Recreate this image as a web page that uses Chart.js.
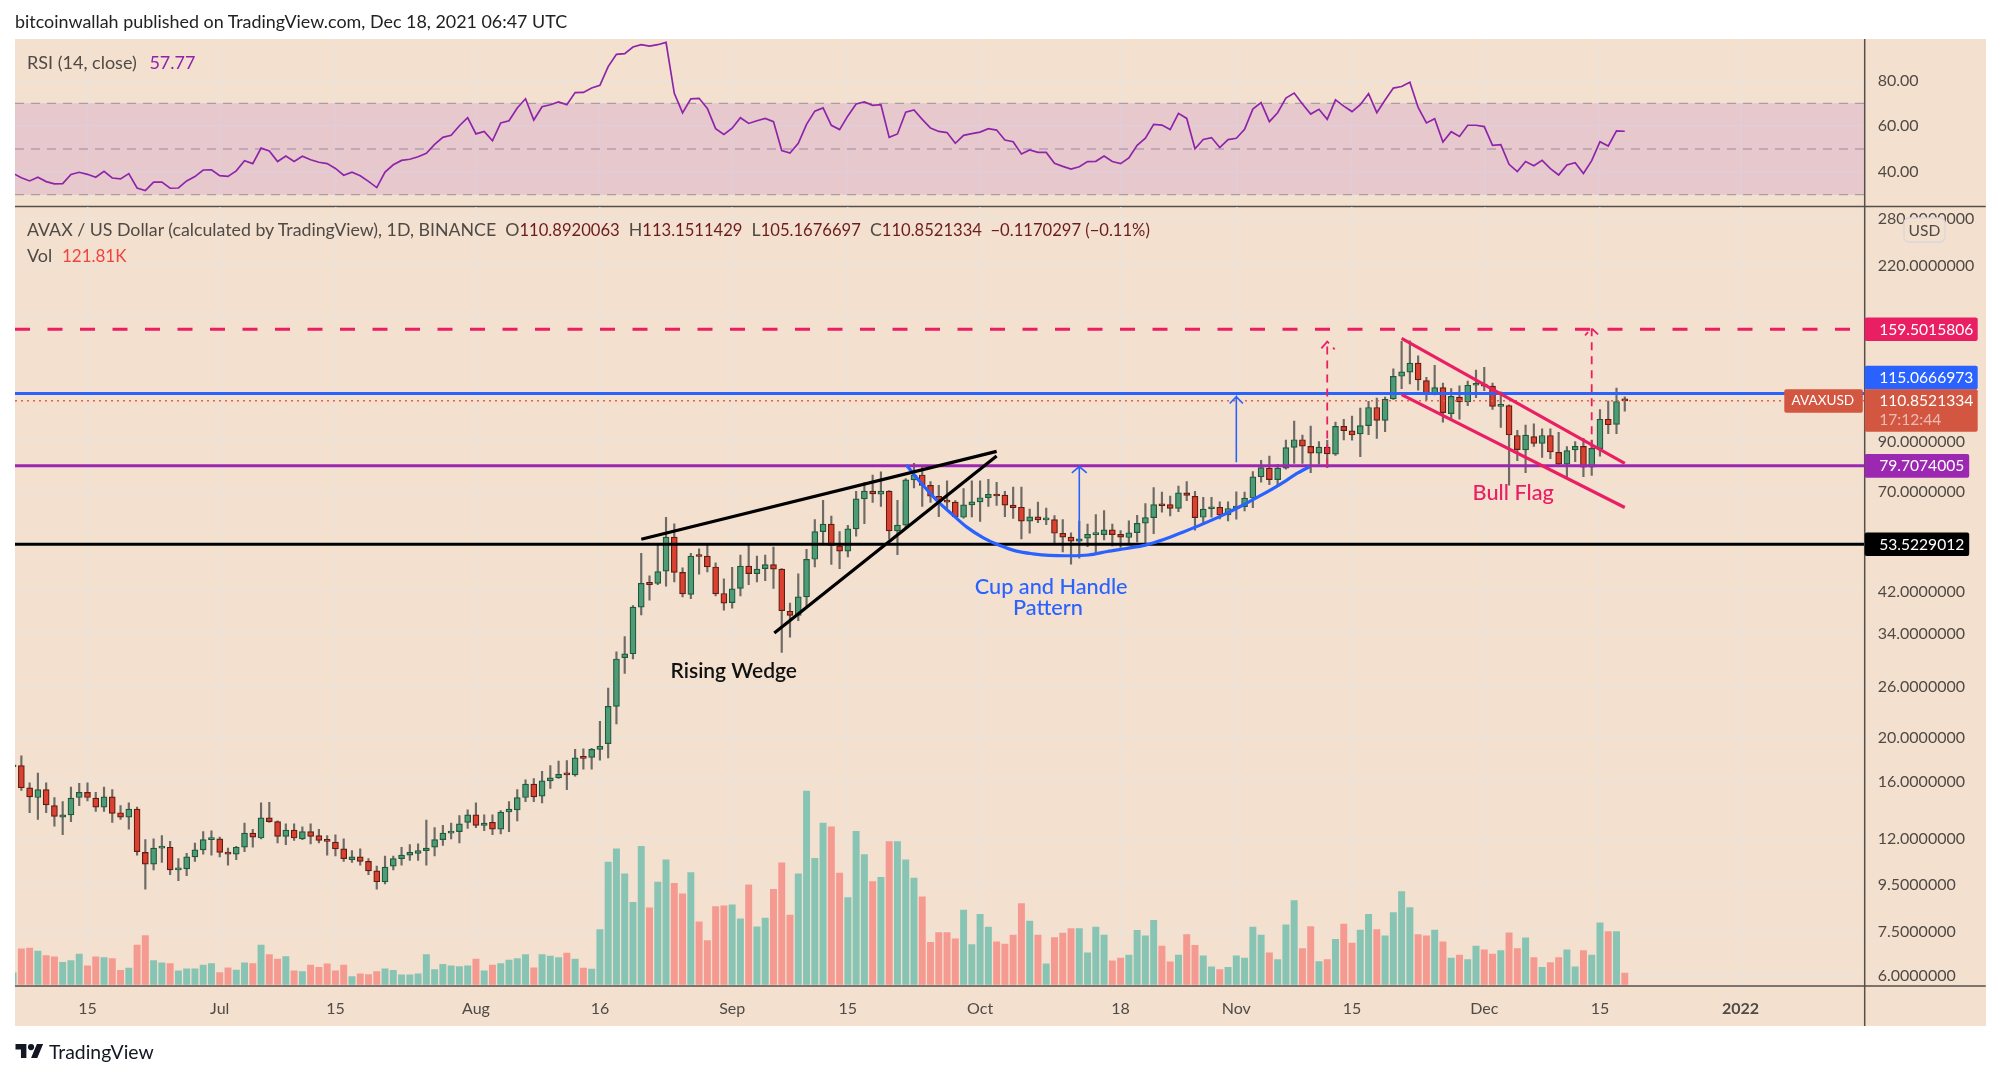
<!DOCTYPE html>
<html><head><meta charset="utf-8">
<script src="https://cdn.jsdelivr.net/npm/chart.js@4"></script>
<style>
html,body{margin:0;padding:0;background:#fff;width:2000px;height:1078px;overflow:hidden}
#bg{position:absolute;left:15px;top:39px;width:1970.7px;height:987px;background:#f3e0cf}
canvas{position:absolute;left:0;top:0}
.t{position:absolute;white-space:pre;line-height:1;transform:translateY(-50%);font-family:Lato,sans-serif;font-size:18px;color:#4f4a46}
.v{font-size:16.6px;color:#6b1c1c}
</style></head><body>
<div id="bg"></div>
<canvas id="rsi" width="2000" height="1078"></canvas>
<canvas id="main" width="2000" height="1078"></canvas>
<div class="t" style="left:15px;top:22px;color:#222;font-size:17.9px">bitcoinwallah published on TradingView.com, Dec 18, 2021 06:47 UTC</div>
<div class="t" style="left:27px;top:62px">RSI (14, close) <span style="color:#8e24aa;margin-left:8px">57.77</span></div>
<div class="t" style="left:27px;top:230px;font-size:17.75px">AVAX / US Dollar (calculated by TradingView), 1D, BINANCE  O<span class="v">110.8920063</span>  H<span class="v">113.1511429</span>  L<span class="v">105.1676697</span>  C<span class="v">110.8521334  −0.1170297 (−0.11%)</span></div>
<div class="t" style="left:27px;top:255px">Vol <span style="color:#f0453f;margin-left:5px;font-size:17px">121.81K</span></div>
<svg style="position:absolute;left:15px;top:1044px" width="29" height="14" viewBox="0 0 36 18"><path fill="#131722" d="M14 18H7V7H0V0h14v18zM28 18h-8L27.500 0h8L28 18z"/><circle cx="20" cy="4" r="4" fill="#131722"/></svg>
<div class="t" style="left:49px;top:1052px;color:#131722;font-size:19.4px">TradingView</div>
<script>
const dayTicks=[-16,0,14,31,46,62,76,92,109,123,137,153,167,184];
const dayTickLabels=['15','Jul','15','Aug','16','Sep','15','Oct','18','Nov','15','Dec','15','2022'];
const priceTicks=[6,7.5,9.5,12,16,20,26,34,42,54,70,90,115,170,220,280];
const priceTickHidden=[54,115,170];
const rsiTicks=[40,60,80];

const opens=[17.3,
17.4,15.55,14.8,15.4,14.2,13.4,13.55,14.8,15.2,14.75,
14.1,14.85,13.7,13.4,13.95,11.2,10.55,11.45,11.5,10.25,
10.3,10.95,11.35,11.95,12.0,11.2,11.1,11.5,12.35,12.05,
13.35,13.1,12.15,12.55,12.0,12.45,12.2,11.9,11.8,11.4,
10.8,10.95,10.7,10.2,9.65,10.45,10.85,11.05,11.15,11.3,
11.5,11.95,12.35,12.45,13.05,13.55,12.85,13.05,12.6,13.75,
13.9,14.8,15.85,14.9,16.1,16.35,16.7,16.6,18.15,18.15,
18.9,19.45,23.5,30.1,30.7,38.9,44.1,43.9,46.7,55.5,
46.4,41.5,50.6,50.4,47.7,41.7,39.8,42.8,47.9,46.1,
47.3,48.3,47.2,38.1,37.3,41.0,49.6,57.1,59.3,53.1,
51.7,57.9,67.4,70.1,69.0,70.1,57.3,59.0,74.2,76.1,
72.2,68.3,66.8,66.3,61.4,65.4,66.4,67.8,69.1,68.7,
65.3,64.6,60.2,61.5,60.6,60.7,56.6,55.5,54.4,55.2,
56.2,56.2,57.6,56.3,55.4,56.8,59.6,61.3,65.6,65.5,
64.2,69.5,68.3,61.4,64.1,64.6,62.1,64.3,64.8,67.7,
75.4,78.8,74.3,78.8,87.5,91.0,88.0,85.0,87.7,84.6,
97.4,95.2,93.7,97.8,107.2,100.4,112,125.6,128.2,134.3,
122.9,115,118.6,103.9,113,110.3,120,120.2,119.5,107.8,
108.2,93,86.4,92.5,89.3,93,85.4,80.4,86.4,88,
79.2,87,101,98.4,110.892];
const highs=[18,
18.3,15.95,16.75,15.95,14.8,14.5,15.6,15.9,15.95,15.2,
15.6,15.4,14.2,14.4,14.1,11.95,12.0,12.2,11.85,10.85,
11.15,11.75,12.45,12.5,12.1,11.45,11.55,13.0,12.6,14.4,
14.45,13.15,12.95,12.95,12.75,12.95,12.6,12.2,12.25,12.0,
11.3,11.4,10.85,10.45,11.0,11.0,11.5,11.65,11.7,13.2,
12.7,12.85,13.0,13.5,13.9,14.4,13.55,13.55,13.85,14.5,
15.4,16.2,16.3,16.9,17.4,17.8,17.85,18.9,18.95,19.0,
21.8,25.8,31.0,33.5,39.2,51.1,45.6,53.8,61.4,59.4,
47.5,51.1,52.3,53.3,48.7,44.9,47.6,50.7,53.6,50.4,
50.7,52.8,47.3,39.7,46.1,52.2,60.7,66.9,61.8,57.1,
58.9,70.0,73.2,76.1,77.3,70.3,66.9,74.7,80.7,79.9,
73.6,72.2,73.9,66.8,71.0,73.9,73.9,74.4,73.3,70.0,
71.6,71.6,64.0,66.3,64.3,61.9,60.7,56.7,60.2,59.3,
62.2,63.5,59.3,57.4,60.3,62.0,65.8,71.4,69.8,68.4,
71.9,73.6,70.0,67.9,67.9,66.4,66.4,69.9,69.8,77.4,
82.0,83.8,80.3,90.8,100.0,93.2,97.5,90.1,90.7,99.6,
101,102.6,106.9,110.6,112.4,113,130.5,150,150.4,139.4,
125,132.7,121.3,118,119.7,122.6,129.6,131.4,121.3,116.1,
108.6,95.5,98,98.6,96.2,96.2,94.5,87.9,90.1,91.6,
90.8,106.1,110.7,118.3,113.151];
const lows=[17,
15.35,13.7,13.25,13.7,12.8,12.25,13.1,14.2,14.55,13.8,
13.8,13.05,13.25,12.6,11.05,9.3,10.25,10.65,10.0,9.7,
9.95,10.7,11.1,11.05,10.95,10.5,10.8,11.25,11.5,12.0,
13.05,11.75,11.65,11.9,11.95,11.7,11.75,11.05,11.0,10.7,
10.65,10.5,10.0,9.3,9.55,10.25,10.5,10.75,10.75,10.5,
11.0,11.6,12.0,11.75,12.65,12.7,12.5,12.25,12.3,12.45,
13.15,14.5,14.5,14.4,15.5,16.3,15.4,16.5,17.1,17.1,
17.9,18.1,21.5,27.8,29.9,37.4,40.3,43.6,43.3,44.2,
41.0,40.6,46.0,46.5,41.2,38.3,38.7,41.2,43.6,44.2,
44.5,42.8,30.9,33.4,36.3,39.0,47.7,53.4,48.3,47.3,
50.2,55.8,59.4,66.2,64.9,54.9,50.8,58.1,71.3,64.9,
66.2,61.6,64.2,61.4,61.1,61.5,60.1,64.9,65.2,61.6,
61.0,55.0,56.6,59.7,59.1,53.9,51.5,48.4,49.9,52.9,
51.2,54.7,53.1,52.7,53.5,54.2,53.7,56.5,63.0,61.8,
63.2,66.8,57.5,59.2,61.4,60.9,60.3,60.8,63.4,64.5,
73.4,72.4,72.2,78.4,80.7,80.7,77.0,80.4,79.0,84.0,
90.9,90.8,83.5,93.4,91.6,94.8,111.7,118,120.8,117.1,
111.2,114.2,99.5,101,101,108.2,112.6,116.8,106.2,96.9,
72.3,81.8,77,88,83.2,82.7,80.2,75.4,81.4,75.4,
75.9,83.7,93.8,93.8,105.168];
const closes=[17.4,
15.55,14.85,15.4,14.25,13.45,13.55,14.75,15.2,14.8,14.1,
14.85,13.65,13.4,13.95,11.25,10.55,11.45,11.5,10.25,10.3,
10.95,11.35,11.95,12.0,11.2,11.1,11.5,12.35,12.1,13.35,
13.1,12.15,12.55,12.05,12.45,12.15,11.9,11.85,11.4,10.85,
10.95,10.7,10.2,9.65,10.4,10.85,11.05,11.2,11.3,11.45,
11.95,12.35,12.45,12.95,13.55,12.85,13.0,12.6,13.75,13.95,
14.8,15.85,14.85,16.1,16.35,16.65,16.6,18.1,18.05,18.9,
19.2,23.5,29.9,30.7,38.9,43.9,43.6,46.6,55.5,46.4,
41.6,50.4,50.3,47.7,41.6,39.7,42.7,47.9,46.1,47.2,
48.3,47.2,38.2,37.3,41.0,49.6,57.1,59.3,53.2,51.7,
57.9,67.4,70.1,69.1,70.1,57.3,59.0,74.2,76.1,72.2,
68.3,66.9,66.3,61.5,65.4,66.4,67.8,69.0,68.4,65.3,
64.5,60.2,61.5,60.6,61.0,56.6,55.5,54.4,55.0,56.3,
56.4,57.6,56.2,55.5,56.7,59.5,61.3,65.5,65.1,64.2,
69.5,68.6,61.3,64.0,64.7,62.1,64.2,64.7,67.7,75.4,
79.0,74.3,78.8,87.4,91.0,88.1,85.0,87.7,84.7,97.4,
95.3,93.2,97.8,107.2,100.4,111.7,125.6,128.4,134.3,123.3,
115,118.6,104.4,113.4,110.3,120,120.3,119.5,107.8,108.2,
93.2,86.5,93.2,89.3,93,85.5,80.4,86.1,88,79.2,
87.1,101,98.2,110.5,110.852];
const volumes=[125,
381,388,356,310,295,238,256,324,199,295,
288,278,150,174,420,523,256,231,224,146,
167,167,206,224,128,178,153,231,224,420,
320,271,299,146,139,206,182,221,146,206,
85,114,107,139,167,150,103,103,114,320,
160,214,199,192,199,271,146,206,224,260,
278,320,178,320,303,288,335,271,175,165,
587,1307,1449,1182,876,1474,819,1093,1331,1079,
968,1196,669,470,833,840,851,701,1064,616,
708,1015,1299,740,1182,2065,1346,1723,1684,1189,
929,1634,1388,1100,1143,1527,1527,1331,1136,936,
449,555,555,488,794,427,748,612,456,431,
527,865,676,527,221,502,548,598,598,338,
612,527,253,281,313,577,520,684,409,242,
313,534,417,306,189,160,182,306,281,612,
527,338,267,637,897,384,619,246,267,481,
644,441,580,748,587,520,769,993,822,534,
520,580,456,281,313,267,409,370,324,363,
552,384,498,288,182,235,288,370,189,363,
313,659,566,566,121.81];
const rsiValues=[39.3,37.4,36.0,37.6,35.7,34.7,34.8,38.8,39.8,38.9,37.6,40.2,37.3,36.9,39.2,32.9,31.8,35.5,35.5,32.8,32.9,36.0,37.9,40.8,40.9,
38.3,38.0,40.4,44.9,43.6,50.4,49.1,44.5,46.9,44.5,46.8,45.3,44.2,43.6,41.5,38.5,39.8,38.3,35.8,33.1,39.9,43.1,45.0,45.5,46.6,
48.1,52.0,55.1,56.0,60.2,63.7,56.6,57.7,53.6,61.4,62.4,68.0,72.0,62.7,68.5,69.4,70.6,69.4,74.7,74.8,76.7,77.9,86.1,91.5,91.8,
94.7,95.7,95.1,95.7,96.7,74.4,65.8,72.0,72.2,67.8,58.9,56.4,59.1,63.7,61.2,62.4,63.4,62.0,49.3,48.2,52.5,60.8,66.6,68.0,60.4,
58.5,64.5,69.7,70.6,69.1,69.4,55.1,56.6,66.1,67.1,63.0,59.2,57.7,57.2,52.5,56.0,56.7,57.4,58.9,58.3,53.9,53.2,47.8,49.6,48.5,
48.5,43.7,42.4,41.2,42.2,44.5,44.6,46.9,44.5,43.6,46.1,51.6,54.7,60.8,60.5,58.5,65.6,63.4,50.1,54.2,55.0,50.6,54.1,54.7,58.6,
67.5,70.3,62.0,65.9,72.3,74.5,69.7,65.3,67.4,63.0,71.5,68.8,66.4,69.4,74.2,65.9,71.5,76.7,77.4,79.3,68.2,61.4,63.3,53.1,57.6,
55.5,60.4,60.4,59.8,51.6,51.9,43.3,40.1,44.5,42.7,45.0,41.4,38.6,43.0,44.0,39.3,44.9,53.2,51.3,57.9,57.77];

const levelPrices=[159.5015806,115.0666973,110.8521334,79.7074005,53.5229012];
const wedgeTopDays=[51,94], wedgeTopPrices=[54.9,85.8];
const wedgeLowDays=[67.1,94], wedgeLowPrices=[34.1,83.8];
const cupDays=[83.1,84.7,86.7,88.8,90.4,92.4,94.4,96.4,98.4,100.4,102.8,105.1,107.4,109.7,112,114.3,116.6,118.9,121.3,123.6,125.9,128.2,130.5,131.9];
const cupPrices=[80,73.6,67.1,61.9,58.4,55.3,53.2,51.7,51,50.6,50.5,50.7,51.6,52.4,53.3,54.9,57,59.3,62,65,68.5,72.4,77,79.4];
const flagTopDays=[143,170], flagTopPrices=[152.2,80.7];
const flagLowDays=[143,170], flagLowPrices=[114.4,64.5];
const arrowADays=[104,104,103.1,104,104.9], arrowAPrices=[54,79.4,76.9,79.4,76.9];
const arrowBDays=[123,123,122.2,123,123.8], arrowBPrices=[81.2,113.2,109.4,113.2,109.4];
const arrowCDays=[134,134,133.2,134,134.9], arrowCPrices=[79.4,149.8,144,149.8,144];
const arrowDDays=[166,166,165.2,166,166.9], arrowDPrices=[87.1,160.2,154.6,160.2,154.6];
const noteTexts=['Rising Wedge','Cup and Handle','Pattern','Bull Flag'];
const noteDays=[62.2,100.6,100.2,156.5];
const notePrices=[28.15,43.1,38.8,69.55];
const noteColors=['#111','#2962ff','#2962ff','#e91e63'];
const tagTexts=['159.5015806','115.0666973','79.7074005','53.5229012'];
const tagValues=[159.5015806,115.0666973,79.7074005,53.5229012];
const tagColors=['#e91e63','#2962ff','#9c27b0','#000'];

const FONT='Lato, sans-serif';
const dayMin=-24.77, dayMax=199.03;
const pts=(xs,ys)=>xs.map((x,i)=>({x,y:ys[i]}));
const days=closes.map((_,i)=>i-25);
const up=closes.map((c,i)=>c>=opens[i]);
Chart.defaults.font.family=FONT;
Chart.defaults.animation=false;
const grid='#ece4dc', ink='#4f4a46';

function line(data,color,width,extra){return Object.assign({type:'line',data,borderColor:color,borderWidth:width,pointRadius:0,fill:false,tension:0,yAxisID:'y',order:2},extra||{});}

const chrome={id:'chrome',afterDraw(c){
  const g=c.ctx,a=c.chartArea;
  g.save();g.strokeStyle='#55504c';g.lineWidth=1.5;g.beginPath();
  g.moveTo(a.right,a.top);g.lineTo(a.right,c.canvas.id==='main'?1026:a.bottom);
  g.moveTo(15,a.bottom);g.lineTo(1985.7,a.bottom);
  g.stroke();g.restore();
}};

new Chart(document.getElementById('rsi'),{
  type:'line',
  data:{datasets:[
    line(pts([dayMin,dayMax],[70,70]),'#a89f9f',1.3,{borderDash:[9,7],order:4}),
    line(pts([dayMin,dayMax],[30,30]),'#a89f9f',1.3,{borderDash:[9,7],order:4,fill:'-1',backgroundColor:'rgba(150,40,200,0.12)'}),
    line(pts([dayMin,dayMax],[50,50]),'#b8adad',1.3,{borderDash:[9,7],order:4}),
    line(pts(days,rsiValues),'#8e24aa',1.7,{order:1}),
  ]},
  options:{responsive:false,maintainAspectRatio:false,
    layout:{padding:{left:15,top:39,right:14.3,bottom:871.5}},
    plugins:{legend:{display:false},tooltip:{enabled:false}},
    scales:{
      x:{type:'linear',offset:false,min:dayMin,max:dayMax,afterBuildTicks:s=>{s.ticks=dayTicks.map(v=>({value:v}));},
        ticks:{display:false,autoSkip:false},grid:{color:grid,lineWidth:1.5,drawTicks:false},border:{display:false},
        afterFit:s=>{s.height=0;}},
      y:{type:'linear',position:'right',min:24.8,max:98.2,afterBuildTicks:s=>{s.ticks=rsiTicks.map(v=>({value:v}));},
        ticks:{color:ink,font:{size:16},padding:13,autoSkip:false,callback:v=>v.toFixed(2)},
        grid:{color:grid,lineWidth:1.5,drawTicks:false},border:{display:false},afterFit:s=>{s.width=121;}}
    }},
  plugins:[chrome]
});

const tags={id:'tags',afterDraw(c){
  const g=c.ctx,y=c.scales.y,L=c.chartArea.right;
  const rect=(x,t,w,h,col,r)=>{g.fillStyle=col;g.beginPath();g.roundRect(x,t,w,h,r||2);g.fill();};
  g.save();g.textBaseline='middle';
  tagValues.forEach((v,i)=>{
    const shift=i===1?-15.9:0, cy=y.getPixelForValue(v)+shift, w=(i<2?113:104.5);
    rect(L,cy-11.8,w,23.6,tagColors[i]);
    g.fillStyle='#fff';g.font='15.6px '+FONT;g.textAlign='left';g.fillText(tagTexts[i],L+14.5,cy+0.5);
  });
  const py=y.getPixelForValue(levelPrices[2]);
  rect(L,py-11.6,113,42.5,'#d35640');
  rect(1784.3,py-11.6,78.5,23.5,'#d35640');
  g.fillStyle='#fff';g.font='15.6px '+FONT;g.textAlign='left';
  g.fillText(levelPrices[2].toFixed(7),L+14.5,py);
  g.fillStyle='rgba(255,255,255,.6)';g.fillText('17:12:44',L+14.5,py+19.5);
  g.fillStyle='#fff';g.font='13.6px '+FONT;g.fillText('AVAXUSD',1791.5,py);
  g.font='15.6px '+FONT;
  g.fillStyle='#f3e0cf';g.strokeStyle='#dcd6da';g.lineWidth=1.4;
  g.beginPath();g.roundRect(1904,218,41,24,5);g.fill();g.stroke();
  g.fillStyle=ink;g.textAlign='center';g.fillText('USD',1924.5,230.5);
  noteTexts.forEach((t,i)=>{
    g.fillStyle=noteColors[i];g.font=(i===0?'600 21px ':'500 21.7px ')+FONT;g.textAlign='center';
    g.fillText(t,c.scales.x.getPixelForValue(noteDays[i]),y.getPixelForValue(notePrices[i]));
  });
  g.restore();
}};

new Chart(document.getElementById('main'),{
  type:'bar',
  data:{datasets:[
    {type:'bar',order:8,yAxisID:'yVol',barThickness:6.3,grouped:false,
     data:pts(days,volumes),backgroundColor:up.map(u=>u?'#88c4b4':'#f59a90')},
    {type:'bar',order:7,yAxisID:'y',barThickness:1.5,grouped:false,
     data:days.map((d,i)=>({x:d,y:[lows[i],highs[i]]})),backgroundColor:'#6e6a66'},
    {type:'bar',order:6,yAxisID:'y',barThickness:6,grouped:false,minBarLength:2,borderSkipped:false,borderWidth:1.2,
     data:days.map((d,i)=>({x:d,y:[opens[i],closes[i]]})),
     backgroundColor:up.map(u=>u?'#4f9b78':'#dc4030'),borderColor:up.map(u=>u?'#1d5a3c':'#5e1d12')},
    line(pts([dayMin,dayMax],[levelPrices[1],levelPrices[1]]),'#2962ff',3,{order:3}),
    line(pts([dayMin,dayMax],[levelPrices[2],levelPrices[2]]),'#e2604c',1.5,{order:3,borderDash:[2,4]}),
    line(pts([dayMin,dayMax],[levelPrices[3],levelPrices[3]]),'#9c27b0',3,{order:3}),
    line(pts([dayMin,dayMax],[levelPrices[4],levelPrices[4]]),'#000',3,{order:3}),
    line(pts([dayMin,dayMax],[levelPrices[0],levelPrices[0]]),'#e91e63',3,{order:3,borderDash:[15,17.5]}),
    line(pts(wedgeTopDays,wedgeTopPrices),'#000',3.2),
    line(pts(wedgeLowDays,wedgeLowPrices),'#000',3.2),
    line(pts(cupDays,cupPrices),'#2962ff',3.2,{tension:0.3}),
    line(pts(flagTopDays,flagTopPrices),'#e91e63',3.2),
    line(pts(flagLowDays,flagLowPrices),'#e91e63',3.2),
    line(pts(arrowADays,arrowAPrices),'#2962ff',1.6),
    line(pts(arrowBDays,arrowBPrices),'#2962ff',1.6),
    line(pts(arrowCDays,arrowCPrices),'#e91e63',1.8,{borderDash:[8,6]}),
    line(pts(arrowDDays,arrowDPrices),'#e91e63',1.8,{borderDash:[8,6]}),
  ]},
  options:{responsive:false,maintainAspectRatio:false,
    layout:{padding:{left:15,top:207,right:14.3,bottom:52}},
    plugins:{legend:{display:false},tooltip:{enabled:false}},
    scales:{
      x:{type:'linear',offset:false,min:dayMin,max:dayMax,afterBuildTicks:s=>{s.ticks=dayTicks.map(v=>({value:v}));},
        ticks:{color:ink,autoSkip:false,maxRotation:0,padding:13,font:c=>({size:16,weight:c.tick&&c.tick.value===184?'bold':'normal'}),
          callback:v=>dayTickLabels[dayTicks.indexOf(v)]},
        grid:{offset:false,color:grid,lineWidth:1.5,drawTicks:false},border:{display:false},afterFit:s=>{s.height=40;}},
      y:{type:'logarithmic',position:'right',min:5.685,max:296.6,afterBuildTicks:s=>{s.ticks=priceTicks.map(v=>({value:v}));},
        ticks:{color:ink,font:{size:16},padding:13,autoSkip:false,callback:v=>priceTickHidden.includes(v)?'':v.toFixed(7)},
        grid:{color:grid,lineWidth:1.5,drawTicks:false},border:{display:false},afterFit:s=>{s.width=121;}},
      yVol:{type:'linear',display:false,min:-16,max:8300}
    }},
  plugins:[chrome,tags]
});
</script>
</body></html>
